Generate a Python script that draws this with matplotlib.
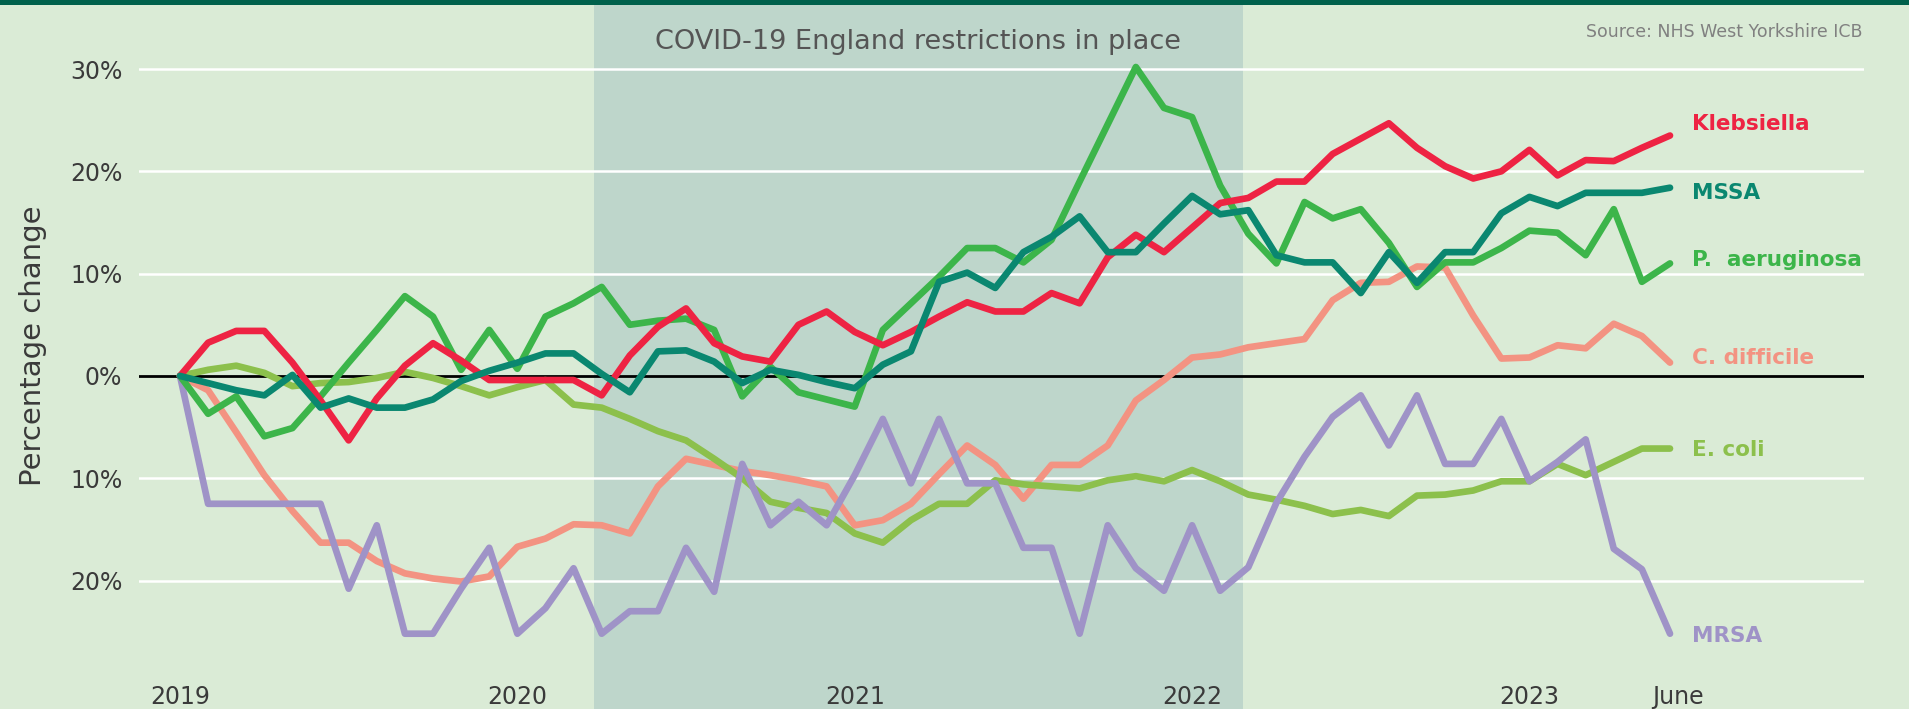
import numpy as np
import matplotlib
matplotlib.use("Agg")
from matplotlib import pyplot as plt
from matplotlib.patches import Rectangle
import matplotlib.transforms as mtransforms

# Monthly percentage change since January 2019 (Jan 2019 .. Jun 2023)
klebsiella = [0, 3.25, 4.4, 4.4, 1.3, -2.4, -6.3, -2.2, 1.0, 3.2,
              1.5, -0.4, -0.4, -0.4, -0.4, -1.9, 2.0, 4.8, 6.6, 3.2,
              1.9, 1.4, 5.0, 6.3, 4.3, 3.0, 4.3, 5.8, 7.2, 6.3,
              6.3, 8.1, 7.1, 11.6, 13.8, 12.1, 14.5, 16.9, 17.4, 19.0,
              19.0, 21.7, 23.2, 24.7, 22.3, 20.5, 19.3, 20.0, 22.1, 19.6,
              21.1, 21.0, 22.3, 23.5]
mssa = [0, -0.7, -1.4, -1.9, 0.1, -3.1, -2.2, -3.1, -3.1, -2.3,
        -0.5, 0.5, 1.3, 2.2, 2.2, 0.2, -1.6, 2.4, 2.5, 1.4,
        -0.7, 0.6, 0.1, -0.6, -1.2, 1.1, 2.4, 9.2, 10.1, 8.6,
        12.1, 13.6, 15.6, 12.1, 12.1, 14.9, 17.6, 15.8, 16.2, 11.8,
        11.1, 11.1, 8.1, 12.1, 9.1, 12.1, 12.1, 15.9, 17.5, 16.6,
        17.9, 17.9, 17.9, 18.4]
p_aeruginosa = [0, -3.7, -2.0, -5.9, -5.1, -2.0, 1.3, 4.5, 7.8, 5.8,
                0.6, 4.5, 0.7, 5.8, 7.1, 8.7, 5.0, 5.4, 5.6, 4.5,
                -2.0, 0.9, -1.6, -2.3, -3.0, 4.5, 7.1, 9.7, 12.5, 12.5,
                11.1, 13.3, 19.0, 24.6, 30.2, 26.2, 25.3, 18.6, 13.9, 11.0,
                17.0, 15.4, 16.3, 13.0, 8.7, 11.1, 11.1, 12.5, 14.2, 14.0,
                11.8, 16.3, 9.2, 11.0]
c_difficile = [0, -1.4, -5.5, -9.7, -13.2, -16.3, -16.3, -18.1, -19.3, -19.8,
               -20.1, -19.6, -16.7, -15.9, -14.5, -14.6, -15.4, -10.8, -8.1, -8.7,
               -9.3, -9.7, -10.2, -10.8, -14.6, -14.1, -12.5, -9.6, -6.8, -8.7,
               -12.0, -8.7, -8.7, -6.8, -2.4, -0.4, 1.8, 2.1, 2.8, 3.2,
               3.6, 7.4, 9.1, 9.2, 10.7, 10.6, 5.9, 1.7, 1.8, 3.0,
               2.7, 5.1, 3.9, 1.3]
e_coli = [0, 0.6, 1.0, 0.3, -1.0, -0.7, -0.6, -0.2, 0.4, -0.2,
          -1.0, -1.9, -1.1, -0.4, -2.8, -3.1, -4.2, -5.4, -6.3, -8.1,
          -10.0, -12.3, -12.9, -13.4, -15.4, -16.3, -14.1, -12.5, -12.5, -10.2,
          -10.6, -10.8, -11.0, -10.2, -9.8, -10.3, -9.2, -10.3, -11.6, -12.1,
          -12.7, -13.5, -13.1, -13.7, -11.7, -11.6, -11.2, -10.3, -10.3, -8.6,
          -9.7, -8.4, -7.1, -7.1]
mrsa = [0, -12.5, -12.5, -12.5, -12.5, -12.5, -20.8, -14.6, -25.2, -25.2,
        -20.8, -16.8, -25.2, -22.7, -18.8, -25.2, -23.0, -23.0, -16.8, -21.1,
        -8.6, -14.6, -12.3, -14.6, -9.7, -4.2, -10.5, -4.2, -10.5, -10.5,
        -16.8, -16.8, -25.2, -14.6, -18.8, -21.0, -14.6, -21.0, -18.7, -12.4,
        -7.9, -4.0, -1.9, -6.8, -1.9, -8.6, -8.6, -4.2, -10.3, -8.4,
        -6.2, -16.9, -18.9, -25.2]

series_names = ["C. difficile", "E. coli", "MRSA", "P.  aeruginosa", "Klebsiella", "MSSA"]
series_values = [c_difficile, e_coli, mrsa, p_aeruginosa, klebsiella, mssa]
series_colors = ["#F39382", "#8CC04C", "#9F93C7", "#3CB54A", "#EE2343", "#0A8770"]

x_tick_months = [0, 12, 24, 36, 48, 53]
x_tick_labels = ["2019", "2020", "2021", "2022", "2023", "June"]
y_ticks = [30, 20, 10, 0, -10, -20]
y_tick_labels = ["30%", "20%", "10%", "0%", "10%", "20%"]

# restrictions: 23 Mar 2020 .. 24 Feb 2022 in months since Jan 2019
restrictions = (14.73, 37.8)

bg = "#DAEBD6"
shade = "#BED6CB"
txt = "#3A3A3A"

fig = plt.figure(figsize=(19.25, 7.09), dpi=100, facecolor="white")
fig.patches.append(Rectangle((0, 0), 1909 / 1925, 1, transform=fig.transFigure,
                             facecolor=bg, edgecolor="none", zorder=-2))
fig.patches.append(Rectangle((0, 1 - 5 / 709), 1909 / 1925, 5 / 709, transform=fig.transFigure,
                             facecolor="#00614C", edgecolor="none", zorder=-1))

ax = fig.add_axes([139 / 1925, 0, 1725 / 1925, 704 / 709])
ax.patch.set_alpha(0)
ax.set_xlim(-1.458, 59.9)
ax.set_ylim(-32.56, 36.26)
for s in ax.spines.values():
    s.set_visible(False)

ax.axvspan(*restrictions, color=shade, lw=0, zorder=0)
for v in y_ticks:
    if v == 0:
        ax.axhline(0, color="black", lw=2.0, zorder=1)
    else:
        ax.axhline(v, color="white", lw=1.8, zorder=1)

months = np.arange(len(klebsiella))
for vals, col in zip(series_values, series_colors):
    ax.plot(months, vals, color=col, lw=4.8, solid_joinstyle="round",
            solid_capstyle="round", zorder=3)

label_nudge = {"Klebsiella": 1.1, "MSSA": -0.5, "P.  aeruginosa": 0.3,
               "C. difficile": 0.5, "E. coli": -0.1, "MRSA": -0.2}
for name, vals, col in zip(series_names, series_values, series_colors):
    ax.text(months[-1] + 0.78, vals[-1] + label_nudge[name], name, color=col,
            fontsize=15.5, fontweight="bold", family="DejaVu Sans", va="center", ha="left")

ax.set_yticks(y_ticks)
ax.set_yticklabels(y_tick_labels, fontsize=17, color=txt, family="DejaVu Sans")
ax.tick_params(axis="y", length=0, pad=12)
ax.set_xticks([])

trans = mtransforms.blended_transform_factory(ax.transData, ax.transAxes)
for m, lab in zip(x_tick_months, x_tick_labels):
    ax.text(m + (0.3 if lab == "June" else 0), 0.017, lab, transform=trans, ha="center",
            va="center", fontsize=17, color=txt, family="DejaVu Sans")

ax.text(sum(restrictions) / 2, 0.948, "COVID-19 England restrictions in place",
        transform=trans, ha="center", va="center", fontsize=19.5, color="#555555",
        family="DejaVu Sans")

fig.text(33 / 1925, 1 - 346 / 709, "Percentage change", rotation=90, ha="center",
         va="center", fontsize=21, color=txt, family="DejaVu Sans")
fig.text(1862 / 1925, 1 - 32 / 709, "Source: NHS West Yorkshire ICB", ha="right",
         va="center", fontsize=12.5, color="#808080", family="DejaVu Sans")

fig.savefig("out.png", dpi=100, facecolor=fig.get_facecolor())
